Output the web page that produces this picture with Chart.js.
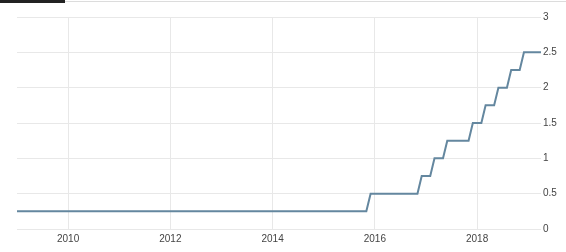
<!DOCTYPE html>
<html>
<head>
<meta charset="utf-8">
<script src="https://cdn.jsdelivr.net/npm/chart.js@4"></script>
<style>
  html, body { margin: 0; padding: 0; background: #fff; }
  #wrap { position: relative; width: 566px; height: 252px; overflow: hidden; }
  #bar { position: absolute; left: 0; top: 0; width: 65px; height: 3px; background: #222; }
  #rule { position: absolute; left: 65px; top: 1px; width: 501px; height: 1px; background: #dcdcdc; }
  canvas { position: absolute; left: 0; top: 0; }
</style>
</head>
<body>
<div id="wrap">
  <canvas id="c" width="566" height="252"></canvas>
  <div id="bar"></div>
  <div id="rule"></div>
</div>
<script>
// Months where the monthly rate changes (plus first and last month), and the rate in that month (%)
const months = ['2009-01','2015-11','2015-12','2016-11','2016-12','2017-02','2017-03','2017-05','2017-06',
                '2017-11','2017-12','2018-02','2018-03','2018-05','2018-06','2018-08','2018-09','2018-11','2018-12','2019-04'];
const rates  = [0.25, 0.25, 0.5, 0.5, 0.75, 0.75, 1.0, 1.0, 1.25,
                1.25, 1.5, 1.5, 1.75, 1.75, 2.0, 2.0, 2.25, 2.25, 2.5, 2.5];
const xTickYears = [2010, 2012, 2014, 2016, 2018];
const yTickValues = [0, 0.5, 1, 1.5, 2, 2.5, 3];

function monthToYear(m) {
  const [y, mo] = m.split('-').map(Number);
  return y + (mo - 1) / 12;
}
const points = months.map((m, i) => ({ x: monthToYear(m), y: rates[i] }));

const font = { family: "'Liberation Sans', Arial, sans-serif", size: 10 };
const gridColor = '#e8e8e8';

new Chart(document.getElementById('c'), {
  type: 'line',
  data: {
    datasets: [{
      data: points,
      borderColor: '#64879f',
      borderWidth: 2,
      pointRadius: 0,
      tension: 0,
      fill: false
    }]
  },
  options: {
    responsive: false,
    animation: false,
    events: [],
    layout: { padding: { left: 17, top: 17, right: 0, bottom: 0 } },
    plugins: { legend: { display: false }, tooltip: { enabled: false } },
    scales: {
      x: {
        type: 'linear',
        min: monthToYear(months[0]),
        max: monthToYear(months[months.length - 1]),
        afterBuildTicks: s => { s.ticks = xTickYears.map(v => ({ value: v })); },
        afterFit: s => { s.height = 23; },
        grid: { color: gridColor, drawTicks: false },
        border: { display: false },
        ticks: { font, color: '#444', padding: 4, maxRotation: 0, autoSkip: false,
                 callback: v => String(v) }
      },
      y: {
        position: 'right',
        min: 0,
        max: 3,
        afterBuildTicks: s => { s.ticks = yTickValues.map(v => ({ value: v })); },
        afterFit: s => { s.width = 25; },
        grid: { color: gridColor, drawTicks: false },
        border: { display: false },
        ticks: { font, color: '#444', padding: 2, callback: v => String(v) }
      }
    }
  }
});
</script>
</body>
</html>
